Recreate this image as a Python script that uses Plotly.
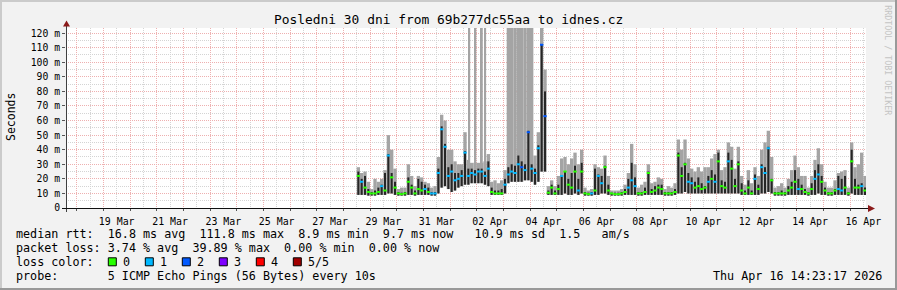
import plotly.graph_objects as go
import pandas as pd

# ---------------- canvas geometry ----------------
W, H = 897, 290
ML, MR, MT, MB = 66, 31, 28, 82
PW, PH = W - ML - MR, H - MT - MB


def px(x):
    return (x - ML) / PW


def py(y):
    return (H - MB - y) / PH


MONO = "DejaVu Sans Mono"

# ---------------- text ----------------
TITLE = "Posledni 30 dni from 69b277dc55aa to idnes.cz"
Y_TITLE = "Seconds"
SIDE_TEXT = "RRDTOOL / TOBI OETIKER"
STAMP = "Thu Apr 16 14:23:17 2026"
LEGEND_LINES = [
    "median rtt:  16.8 ms avg  111.8 ms max  8.9 ms min  9.7 ms now   10.9 ms sd  1.5   am/s",
    "packet loss: 3.74 % avg  39.89 % max  0.00 % min  0.00 % now",
    "loss color:",
    "probe:       5 ICMP Echo Pings (56 Bytes) every 10s",
]
LOSS_LABELS = ["0", "1", "2", "3", "4", "5/5"]
LOSS_COLORS = ["#26ff00", "#00b8ff", "#0059ff", "#7e00ff", "#ff0000", "#a10000"]

# ---------------- axes ----------------
T_START = "2026-03-17 14:23:17"
T_END = "2026-04-16 14:23:17"
Y_TICKS = [0, 10, 20, 30, 40, 50, 60, 70, 80, 90, 100, 110, 120]
Y_LABELS = ["0", "10 m", "20 m", "30 m", "40 m", "50 m", "60 m", "70 m",
            "80 m", "90 m", "100 m", "110 m", "120 m"]
X_TICK_DAYS = ["2026-03-19", "2026-03-21", "2026-03-23", "2026-03-25", "2026-03-27",
               "2026-03-29", "2026-03-31", "2026-04-02", "2026-04-04", "2026-04-06",
               "2026-04-08", "2026-04-10", "2026-04-12", "2026-04-14", "2026-04-16"]
X_TICK_LABELS = ["19 Mar", "21 Mar", "23 Mar", "25 Mar", "27 Mar", "29 Mar", "31 Mar",
                 "02 Apr", "04 Apr", "06 Apr", "08 Apr", "10 Apr", "12 Apr", "14 Apr",
                 "16 Apr"]

# ---------------- data: 3-hour slots from 2026-03-28 12:00 (ms) ----------------
DATA_START = "2026-03-28 12:00"
STEP_H = 3

median_ms = [
    22, 18, 14, 11,                        # Mar 28 (12h..)
    10, 10, 11, 15, 12, 36, 21, 14,        # Mar 29
    10, 9.5, 10, 18, 14, 10, 13, 12,       # Mar 30
    13, 11, 10, 10, 24, 54, 42, 22,        # Mar 31
    25, 19, 20, 22, 38, 22, 24, 23,        # Apr 1
    25, 25, 22, 27, 11, 10, 10, 10,        # Apr 2
    16, 23, 25, 24, 30, 28, 26, 52,        # Apr 3
    27, 24, 41, 112, 63, 10.5, 14, 10,     # Apr 4
    13, 22, 25, 16, 14, 25, 12, 25,        # Apr 5
    10, 9.5, 10, 12, 22, 17, 28, 12,       # Apr 6
    10, 9.5, 9.5, 10, 11, 14, 19, 15,      # Apr 7
    10, 10, 11, 24, 11, 12, 14, 13,        # Apr 8
    10, 10, 10, 11, 36, 22, 30, 18,        # Apr 9
    17, 14, 15, 13, 14, 18, 20, 18,        # Apr 10
    32, 15, 14, 32, 27, 15, 30, 12,        # Apr 11
    10, 14, 10, 20, 13, 28, 24, 41,        # Apr 12
    19, 10, 10, 10, 10, 12, 14, 18,        # Apr 13
    13, 13, 11, 10, 13, 20, 23, 18,        # Apr 14
    12, 10, 10, 12, 13, 12, 14, 10,        # Apr 15
    32, 14, 14, 15, 12,                    # Apr 16
]
dense_hi = [
    25, 20, 22, 13,
    11, 12, 14, 16, 24, 37, 24, 18,
    11, 10.5, 11, 21, 16, 12, 20, 18,
    16, 14, 11, 11, 27, 56, 44, 28,
    30, 24, 24, 26, 39, 27, 27, 26,
    27, 27, 25, 32, 14, 12, 12, 13,
    20, 28, 30, 29, 36, 32, 30, 53,
    30, 27, 43, 112, 80, 12, 16, 12,
    16, 22, 25, 20, 24, 29, 20, 31,
    11, 10.5, 11, 27, 23, 22, 29, 16,
    10.5, 10.5, 10.5, 11, 13, 20, 31, 21,
    11, 11, 14, 25, 13, 15, 16, 16,
    11, 11, 11, 13, 38, 28, 31, 24,
    21, 18, 21, 17, 15, 22, 26, 23,
    38, 19, 18, 38, 33, 20, 32, 17,
    12, 19, 12, 23, 16, 30, 28, 42,
    20, 11, 11, 12, 11, 15, 18, 26,
    20, 16, 13, 11, 17, 26, 30, 22,
    14, 11, 11, 13, 22, 20, 22, 11,
    40, 20, 16, 17, 14,
]
smoke_hi = [
    28, 24, 25, 18,
    13, 20, 18, 20, 26, 50, 40, 27,
    13, 14, 14, 30, 22, 15, 22, 21,
    18, 17, 14, 15, 35, 64, 60, 40,
    40, 32, 30, 30, 52, 33, 31, 31,
    31, 31, 32, 37, 18, 19, 17, 19,
    26, 150, 150, 150, 150, 150, 150, 150,
    150, 36, 52, 150, 95, 15, 19, 15,
    22, 34, 35, 30, 34, 38, 30, 40,
    14, 12, 13, 30, 28, 27, 36, 22,
    12, 12, 12, 13, 16, 24, 44, 30,
    14, 16, 18, 30, 17, 18, 21, 20,
    13, 15, 14, 17, 47, 40, 47, 34,
    27, 25, 28, 25, 28, 28, 34, 37,
    40, 26, 28, 45, 42, 27, 42, 22,
    16, 26, 17, 28, 22, 40, 45, 53,
    35, 14, 15, 17, 14, 20, 26, 36,
    28, 22, 22, 14, 22, 33, 41, 30,
    18, 14, 14, 19, 24, 25, 26, 14,
    45, 28, 30, 38, 22,
]
smoke_lo = [
    9, 9, 9, 8.5,
    8.5, 8.5, 9, 9, 9, 10, 10, 9,
    8.5, 8.5, 8.5, 9, 9, 8.5, 9, 9,
    9, 9, 8.5, 8.5, 10, 14, 15, 13,
    11, 12, 14, 15, 16, 16, 17, 17,
    17, 17, 16, 15, 9, 9, 9, 9,
    10, 17, 18, 18, 18, 18, 19, 19,
    18, 16, 18, 25, 25, 9, 9, 9,
    9, 9, 10, 9, 9, 10, 9, 10,
    8.5, 8.5, 8.5, 9, 9, 10, 10, 9,
    8.5, 8.5, 8.5, 8.5, 9, 9, 9, 9,
    8.5, 8.5, 9, 9, 9, 9, 9, 9,
    8.5, 8.5, 8.5, 9, 10, 10, 11, 10,
    10, 10, 10, 10, 10, 10, 10, 10,
    10, 10, 10, 10, 10, 10, 10, 9,
    9, 9, 9, 9, 9, 10, 10, 11,
    10, 8.5, 8.5, 8.5, 8.5, 9, 9, 9,
    9, 9, 9, 8.5, 9, 9, 10, 9,
    9, 8.5, 8.5, 9, 9, 9, 9, 8.5,
    10, 9, 9, 9, 9,
]
loss_level = [
    0, 1, 0, 0,
    0, 0, 0, 1, 0, 1, 0, 0,
    0, 0, 0, 0, 0, 0, 0, 0,
    1, 0, 1, 1, 1, 1, 1, 1,
    1, 1, 1, 1, 1, 1, 1, 1,
    1, 1, 1, 1, 0, 0, 0, 0,
    1, 1, 1, 1, 1, 2, 1, 2,
    1, 1, 1, 2, 2, 0, 0, 0,
    0, 1, 0, 0, 0, 0, 1, 0,
    0, 0, 1, 0, 1, 1, 0, 0,
    0, 0, 0, 0, 0, 1, 1, 1,
    0, 0, 0, 0, 0, 0, 0, 0,
    0, 0, 0, 0, 0, 0, 0, 1,
    1, 0, 0, 0, 0, 1, 0, 1,
    0, 0, 0, 1, 0, 0, 0, 0,
    0, 0, 0, 1, 0, 1, 1, 1,
    0, 0, 0, 0, 0, 0, 0, 0,
    1, 0, 0, 0, 0, 1, 1, 0,
    0, 0, 0, 0, 1, 1, 0, 0,
    0, 0, 0, 1, 0,
]

# isolated very slow pings (thin smoke spikes running off the top)
outlier_time = ["2026-04-01 17:20", "2026-04-01 22:50", "2026-04-02 04:40", "2026-04-02 07:40"]
outlier_lo = [26, 26, 26, 26]
outlier_hi = [150, 150, 150, 150]

# ---------------- build ----------------
slot_start = pd.date_range(DATA_START, periods=len(median_ms), freq=f"{STEP_H}h")
slot_end = slot_start + pd.Timedelta(hours=STEP_H)
slot_mid = slot_start + pd.Timedelta(hours=STEP_H / 2)
step_ms = STEP_H * 3600 * 1000

fig = go.Figure()

fig.add_trace(go.Bar(
    x=slot_mid, base=smoke_lo, y=[h - l for h, l in zip(smoke_hi, smoke_lo)],
    width=step_ms, marker=dict(color="#a4a4a4", line=dict(width=0)),
    showlegend=False, hoverinfo="skip"))
fig.add_trace(go.Bar(
    x=pd.to_datetime(outlier_time), base=outlier_lo,
    y=[h - l for h, l in zip(outlier_hi, outlier_lo)],
    width=step_ms * 0.55, marker=dict(color="#a4a4a4", line=dict(width=0)),
    showlegend=False, hoverinfo="skip"))
fig.add_trace(go.Bar(
    x=slot_mid, base=smoke_lo, y=[d - l for d, l in zip(dense_hi, smoke_lo)],
    width=step_ms * 0.6, marker=dict(color="#262626", line=dict(width=0)),
    showlegend=False, hoverinfo="skip"))

for lvl, col in enumerate(LOSS_COLORS):
    xs, ys = [], []
    for i, m in enumerate(median_ms):
        if loss_level[i] == lvl:
            xs += [slot_start[i], slot_end[i], None]
            ys += [m, m, None]
    if xs:
        fig.add_trace(go.Scatter(x=xs, y=ys, mode="lines",
                                 line=dict(color=col, width=2),
                                 showlegend=False, hoverinfo="skip"))

# dummy trace to register the label axis
fig.add_trace(go.Scatter(x=[T_START, T_END], y=[None, None], xaxis="x2", yaxis="y",
                         mode="lines", showlegend=False, hoverinfo="skip"))

RED_GRID = "#eeb0b0"
GRAY_GRID = "#d4d4d4"
DASH = "1px,1px"

fig.update_layout(
    width=W, height=H,
    margin=dict(l=ML, r=MR, t=MT, b=MB, pad=0),
    paper_bgcolor="#f2f2f2", plot_bgcolor="#ffffff",
    barmode="overlay", showlegend=False,
    font=dict(family=MONO, color="#000000"),
    xaxis=dict(
        type="date", range=[T_START, T_END],
        tickmode="linear", tick0="2026-03-18", dtick=86400000,
        showticklabels=False, ticks="outside", ticklen=2, tickcolor="#555555",
        showgrid=True, gridcolor=RED_GRID, griddash=DASH, gridwidth=1,
        minor=dict(tick0="2026-03-18 12:00", dtick=43200000, showgrid=True,
                   gridcolor=GRAY_GRID, griddash=DASH, gridwidth=1),
        showline=False, zeroline=False, fixedrange=True,
    ),
    xaxis2=dict(
        type="date", range=[T_START, T_END], overlaying="x", side="bottom",
        anchor="y", tickmode="array",
        tickvals=[d + " 12:00" for d in X_TICK_DAYS], ticktext=X_TICK_LABELS,
        showgrid=False, ticks="outside", ticklen=4, tickcolor="rgba(0,0,0,0)",
        showline=False, zeroline=False,
        tickfont=dict(family=MONO, size=9.9, color="#000000"), fixedrange=True,
    ),
    yaxis=dict(
        range=[0, 123.5], tickmode="array", tickvals=Y_TICKS, ticktext=Y_LABELS,
        showgrid=True, gridcolor=RED_GRID, griddash=DASH, gridwidth=1,
        minor=dict(tick0=0, dtick=5, showgrid=True, gridcolor=GRAY_GRID,
                   griddash=DASH, gridwidth=1),
        ticks="outside", ticklen=3, tickcolor="#555555",
        tickfont=dict(family=MONO, size=9.75, color="#000000"),
        showline=False, zeroline=False, fixedrange=True,
    ),
)

shapes = []
# frame shading
shapes.append(dict(type="line", xref="paper", yref="paper", x0=px(0), x1=px(W), y0=py(1), y1=py(1),
                   line=dict(color="#cbcbcb", width=2)))
shapes.append(dict(type="line", xref="paper", yref="paper", x0=px(1), x1=px(1), y0=py(0), y1=py(H),
                   line=dict(color="#cbcbcb", width=2)))
shapes.append(dict(type="line", xref="paper", yref="paper", x0=px(0), x1=px(W), y0=py(289), y1=py(289),
                   line=dict(color="#999999", width=2)))
shapes.append(dict(type="line", xref="paper", yref="paper", x0=px(896), x1=px(896), y0=py(0), y1=py(H),
                   line=dict(color="#999999", width=2)))
# axis lines and arrows
AX_Y = 208.5
shapes.append(dict(type="line", xref="paper", yref="paper", x0=px(66.5), x1=px(66.5),
                   y0=py(212), y1=py(25), line=dict(color="#404040", width=1), layer="above"))
shapes.append(dict(type="line", xref="paper", yref="paper", x0=px(62), x1=px(869),
                   y0=py(AX_Y), y1=py(AX_Y), line=dict(color="#101010", width=1), layer="above"))
shapes.append(dict(type="path", xref="paper", yref="paper",
                   path=f"M {px(63)} {py(26.5)} L {px(70)} {py(26.5)} L {px(66.5)} {py(20.5)} Z",
                   fillcolor="#8b1a1a", line=dict(width=0), layer="above"))
shapes.append(dict(type="path", xref="paper", yref="paper",
                   path=f"M {px(868)} {py(205)} L {px(868)} {py(212)} L {px(875)} {py(AX_Y)} Z",
                   fillcolor="#8b1a1a", line=dict(width=0), layer="above"))
# loss colour legend boxes
for i, col in enumerate(LOSS_COLORS):
    bx = 108.3 + 37 * i
    shapes.append(dict(type="rect", xref="paper", yref="paper",
                       x0=px(bx), x1=px(bx + 8), y0=py(265.8), y1=py(257.8),
                       fillcolor=col, line=dict(color="#000000", width=1)))
fig.update_layout(shapes=shapes)


def nb(s):
    return s.replace(" ", "\u00a0")


ann = []
LEG_FONT = dict(family=MONO, size=11.72, color="#000000")
ann.append(dict(text=nb(TITLE), x=px(448.5), y=py(19.5), xanchor="center", yanchor="middle",
                font=dict(family=MONO, size=12.9, color="#000000")))
ann.append(dict(text=Y_TITLE, x=px(11), y=py(117), xanchor="center", yanchor="middle",
                textangle=-90, font=dict(family=MONO, size=11.5, color="#000000")))
ann.append(dict(text=nb(SIDE_TEXT), x=px(887.7), y=py(60), xanchor="center", yanchor="middle",
                textangle=90, font=dict(family=MONO, size=8.3, color="#c4c4c4")))
LINE_Y = [234.3, 248.3, 262.3, 276.3]
for s, yy in zip(LEGEND_LINES, LINE_Y):
    ann.append(dict(text=nb(s), x=px(14), y=py(yy), xanchor="left", yanchor="middle", font=LEG_FONT))
for i, lab in enumerate(LOSS_LABELS):
    ann.append(dict(text=lab, x=px(108.3 + 37 * i + 13), y=py(262.3), xanchor="left",
                    yanchor="middle", font=LEG_FONT))
ann.append(dict(text=nb(STAMP), x=px(884), y=py(276.3), xanchor="right", yanchor="middle",
                font=LEG_FONT))
for a in ann:
    a.update(xref="paper", yref="paper", showarrow=False)
fig.update_layout(annotations=ann)

fig.write_html("out.html", config={"displayModeBar": False})
